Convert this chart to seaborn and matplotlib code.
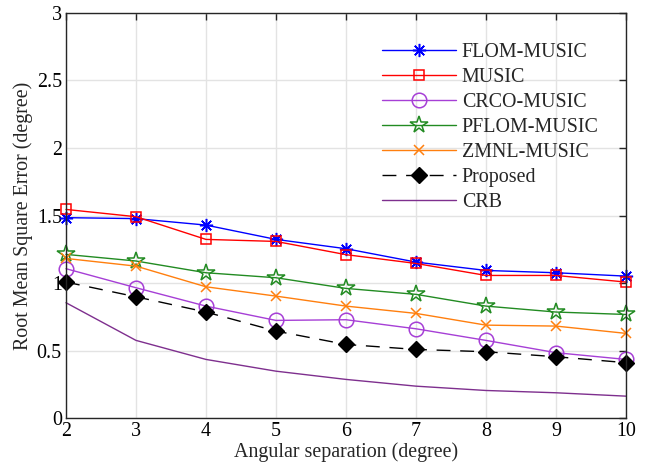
import matplotlib
matplotlib.use("Agg")
import matplotlib.pyplot as plt
import seaborn as sns
import pandas as pd

# Angular separation between sources (degrees)
separation = [2, 3, 4, 5, 6, 7, 8, 9, 10]

# RMSE (degrees) of each estimator
flom_music = [1.484, 1.477, 1.429, 1.323, 1.254, 1.155, 1.093, 1.076, 1.051]
music = [1.545, 1.491, 1.323, 1.308, 1.210, 1.145, 1.056, 1.056, 1.007]
crco_music = [1.106, 0.965, 0.829, 0.723, 0.728, 0.661, 0.575, 0.484, 0.434]
pflom_music = [1.212, 1.163, 1.076, 1.039, 0.960, 0.916, 0.829, 0.785, 0.767]
zmnl_music = [1.182, 1.125, 0.972, 0.903, 0.829, 0.775, 0.688, 0.681, 0.627]
proposed = [1.007, 0.898, 0.785, 0.644, 0.545, 0.508, 0.491, 0.454, 0.410]
crb = [0.854, 0.575, 0.434, 0.347, 0.286, 0.236, 0.204, 0.187, 0.162]

x_ticks = [2, 3, 4, 5, 6, 7, 8, 9, 10]
y_ticks = [0, 0.5, 1, 1.5, 2, 2.5, 3]
y_tick_labels = ["0", "0.5", "1", "1.5", "2", "2.5", "3"]

sns.set_theme(style="whitegrid")
plt.rcParams["font.family"] = ["Liberation Serif", "DejaVu Serif"]

FS = 14.4

fig = plt.figure(figsize=(6.52, 4.74), dpi=100)
ax = fig.add_axes([0.1012, 0.1181, 0.8588, 0.8545])

series = [
    ("FLOM-MUSIC", flom_music, "#0000FF",
     dict(marker=(8, 2, 0), markersize=9.5, markerfacecolor="none", markeredgewidth=1.1, linestyle="-")),
    ("MUSIC", music, "#FF0000",
     dict(marker="s", markersize=7.5, markerfacecolor="none", markeredgewidth=1.1, linestyle="-")),
    ("CRCO-MUSIC", crco_music, "#A63FD6",
     dict(marker="o", markersize=10.5, markerfacecolor="none", markeredgewidth=1.1, linestyle="-")),
    ("PFLOM-MUSIC", pflom_music, "#228B22",
     dict(marker="*", markersize=13, markerfacecolor="none", markeredgewidth=1.1, linestyle="-")),
    ("ZMNL-MUSIC", zmnl_music, "#FF7F0E",
     dict(marker="x", markersize=7.5, markerfacecolor="none", markeredgewidth=1.1, linestyle="-")),
    ("Proposed", proposed, "black",
     dict(marker="D", markersize=8, markerfacecolor="black", markeredgewidth=1.0,
          linestyle=(0, (10, 7)))),
    ("CRB", crb, "#7E2F8E", dict(marker=None, linestyle="-")),
]

for name, values, color, style in series:
    df = pd.DataFrame({"sep": separation, "rmse": values})
    extra = {} if style.get("marker") is None else {"markeredgecolor": color}
    sns.lineplot(data=df, x="sep", y="rmse", ax=ax, label=name, color=color,
                 linewidth=1.0, clip_on=False, zorder=3, **extra, **style)

ax.set_xlim(2, 10)
ax.set_ylim(0, 3)
ax.set_xticks(x_ticks)
ax.set_xticklabels([str(t) for t in x_ticks])
ax.set_yticks(y_ticks)
ax.set_yticklabels(y_tick_labels)

ax.set_xlabel("Angular separation (degree)", fontsize=FS, labelpad=1)
ax.set_ylabel("Root Mean Square Error (degree)", fontsize=FS, labelpad=3)

ax.grid(True, color="#E3E3E3", linewidth=1.0)
ax.set_axisbelow(True)
for side in ["left", "right", "top", "bottom"]:
    ax.spines[side].set_visible(True)
    ax.spines[side].set_color("#262626")
    ax.spines[side].set_linewidth(1.0)
    ax.spines[side].set_zorder(5)
ax.tick_params(axis="both", direction="in", length=5, width=1.0, colors="#262626",
               labelcolor="black", labelsize=FS, top=True, right=True, pad=3)
ax.set_facecolor("white")

leg = ax.legend(loc="upper left", bbox_to_anchor=(0.564, 0.927), frameon=False,
                fontsize=FS, handlelength=3.7, handletextpad=0.3, labelspacing=0.3,
                borderaxespad=0, borderpad=0)

fig.savefig("out.png", dpi=100)
